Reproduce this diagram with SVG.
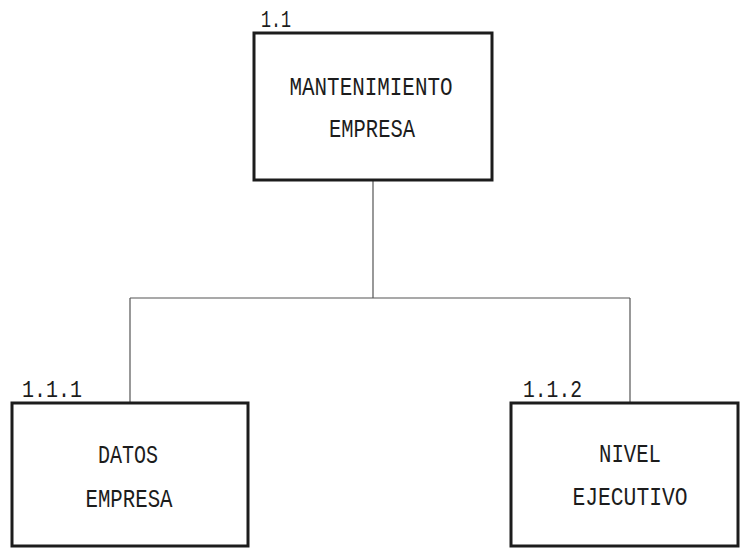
<svg xmlns="http://www.w3.org/2000/svg" width="741" height="548" viewBox="0 0 741 548">
<style>
.box{fill:#fff;stroke:#1c1c1c;stroke-width:3}
.t{font-family:"Liberation Mono","DejaVu Sans Mono",monospace;font-size:26px;fill:#1c1c1c;text-anchor:middle}
.n{font-family:"Liberation Mono","DejaVu Sans Mono",monospace;font-size:23px;fill:#1c1c1c}
.c{fill:none;stroke:#555;stroke-width:1.2}
</style>
<rect width="741" height="548" fill="#fff"/>
<g id="connectors">
<path class="c" d="M373 181V298M130 298H630M130 298V402M630 298V402"/>
</g>
<g id="n1_1">
<rect class="box" x="254" y="33" width="238" height="147"/>
<text class="n" x="261" y="27" textLength="30" lengthAdjust="spacingAndGlyphs">1.1</text>
<text class="t" x="371" y="95" textLength="163" lengthAdjust="spacingAndGlyphs">MANTENIMIENTO</text>
<text class="t" x="372" y="137" textLength="86" lengthAdjust="spacingAndGlyphs">EMPRESA</text>
</g>
<g id="n1_1_1">
<rect class="box" x="12" y="403" width="236" height="143"/>
<text class="n" x="22" y="397" textLength="60" lengthAdjust="spacingAndGlyphs">1.1.1</text>
<text class="t" x="128" y="463" textLength="60" lengthAdjust="spacingAndGlyphs">DATOS</text>
<text class="t" x="129" y="507" textLength="87" lengthAdjust="spacingAndGlyphs">EMPRESA</text>
</g>
<g id="n1_1_2">
<rect class="box" x="511" y="403" width="227" height="143"/>
<text class="n" x="523" y="397" textLength="59" lengthAdjust="spacingAndGlyphs">1.1.2</text>
<text class="t" x="630" y="462" textLength="62" lengthAdjust="spacingAndGlyphs">NIVEL</text>
<text class="t" x="630" y="505" textLength="115" lengthAdjust="spacingAndGlyphs">EJECUTIVO</text>
</g>
</svg>
